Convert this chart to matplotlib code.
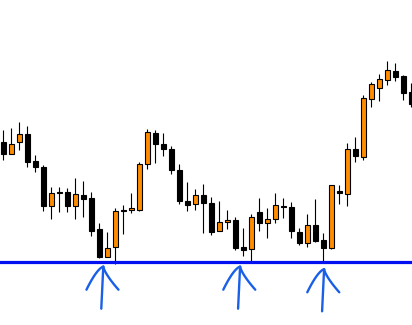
import numpy as np
import matplotlib
matplotlib.use("Agg")
import matplotlib.pyplot as plt

# OHLC values (price in chart points)
opens = [183, 171.3, 182.7, 191, 164, 158, 119.3, 133, 133, 119.3,
         129.7, 127, 96, 68.3, 77.7, 115, 114.7, 114.7, 160.7, 191.7,
         180.7, 175.7, 154.7, 123.7, 120.7, 129.7, 121.7, 94.3, 103, 105,
         78, 75.7, 112.7, 101.7, 105.7, 119, 117.7, 93.3, 81.7, 99.7,
         84.7, 77.3, 133.7, 131.3, 175.7, 168.3, 225.7, 236.7, 244.7, 253.7,
         248.7, 232.7]
highs = [195, 197, 203, 199, 170, 160, 138, 138, 137, 147,
         144, 133, 102, 93, 117, 120, 132, 162.7, 196, 195,
         192, 179, 161, 143, 136, 141, 128, 124, 115, 108,
         97, 111, 127, 117, 131.7, 126.7, 122.7, 96.7, 111, 126,
         92, 139.7, 140, 181.7, 187.7, 229.7, 242.7, 251, 263.7, 261.7,
         249.7, 241.7]
lows = [165, 171, 175, 158, 153.3, 114.3, 106.3, 113, 113.3, 106.3,
        108.3, 89, 67.3, 68.3, 60.7, 91.3, 112.3, 113.7, 155.7, 161.7,
        169.3, 150.7, 120.7, 114.3, 115.3, 92.3, 90.3, 94.3, 96.3, 75,
        69.3, 63.3, 94.3, 87.3, 101.7, 107.3, 87.3, 80.3, 78.3, 83,
        61.7, 76, 121, 119.3, 163.3, 165.3, 217.7, 224.3, 240.3, 244.3,
        225.3, 217.7]
closes = [171.3, 181, 191, 163.3, 158.3, 119.3, 131.7, 132, 119.3, 130.7,
          126.3, 94.3, 68.3, 76.7, 113.7, 113.7, 116.7, 160.7, 192.7, 180.7,
          175.7, 155.3, 123.7, 120.3, 129.7, 121.7, 93.3, 102.7, 105, 77.3,
          75.3, 107.7, 101.7, 105.7, 119.7, 117.7, 94.3, 82.3, 99.7, 84.3,
          77.3, 139.7, 132.3, 175.7, 169.3, 226.7, 240.7, 245.7, 254.7, 248.3,
          232.3, 220.7]

support_level = 62.7
# bounce points marked with hand drawn arrows (candle index, arrow tip price)
arrow_points = [(12.5, 58.3), (29.6, 58.3), (40.1, 55.7)]

UP_COLOR = "#ff8c00"
DOWN_COLOR = "#000000"
LINE_COLOR = "#0010f0"
ARROW_COLOR = "#1a5fe8"

fig = plt.figure(figsize=(4.12, 3.25), dpi=100)
ax = fig.add_axes([0, 0, 1, 1])

x = np.arange(len(opens))
o = np.array(opens)
c = np.array(closes)
up = c > o
colors = [UP_COLOR if u else DOWN_COLOR for u in up]

# wicks
ax.vlines(x, lows, highs, color="black", linewidth=0.8, zorder=2)

# bodies
bottoms = np.minimum(o, c)
heights = np.maximum(np.abs(c - o), 1.2)
ax.bar(x, heights, width=0.62, bottom=bottoms, color=colors,
       edgecolor="black", linewidth=0.8, zorder=3)

# support line
ax.axhline(support_level, color=LINE_COLOR, linewidth=2.3, zorder=4)

# hand drawn style arrows under the bounces
for xi, tip in arrow_points:
    t = np.linspace(0, 1, 25)
    # left stroke, gets steeper towards the end
    ax.plot(xi - 2.1 * t, tip - 23 * t ** 1.5, color=ARROW_COLOR,
            linewidth=1.7, solid_capstyle="round")
    # right stroke, flattens out
    ax.plot(xi + 1.9 * t, tip - 23 * t ** 0.75, color=ARROW_COLOR,
            linewidth=1.7, solid_capstyle="round")
    # shaft
    ax.plot([xi, xi - 0.25], [tip, tip - 42], color=ARROW_COLOR,
            linewidth=1.7, solid_capstyle="round")

ax.set_xlim(-0.41, 51.09)
ax.set_ylim(0, 325)
ax.axis("off")

fig.savefig("out.png", dpi=100)
